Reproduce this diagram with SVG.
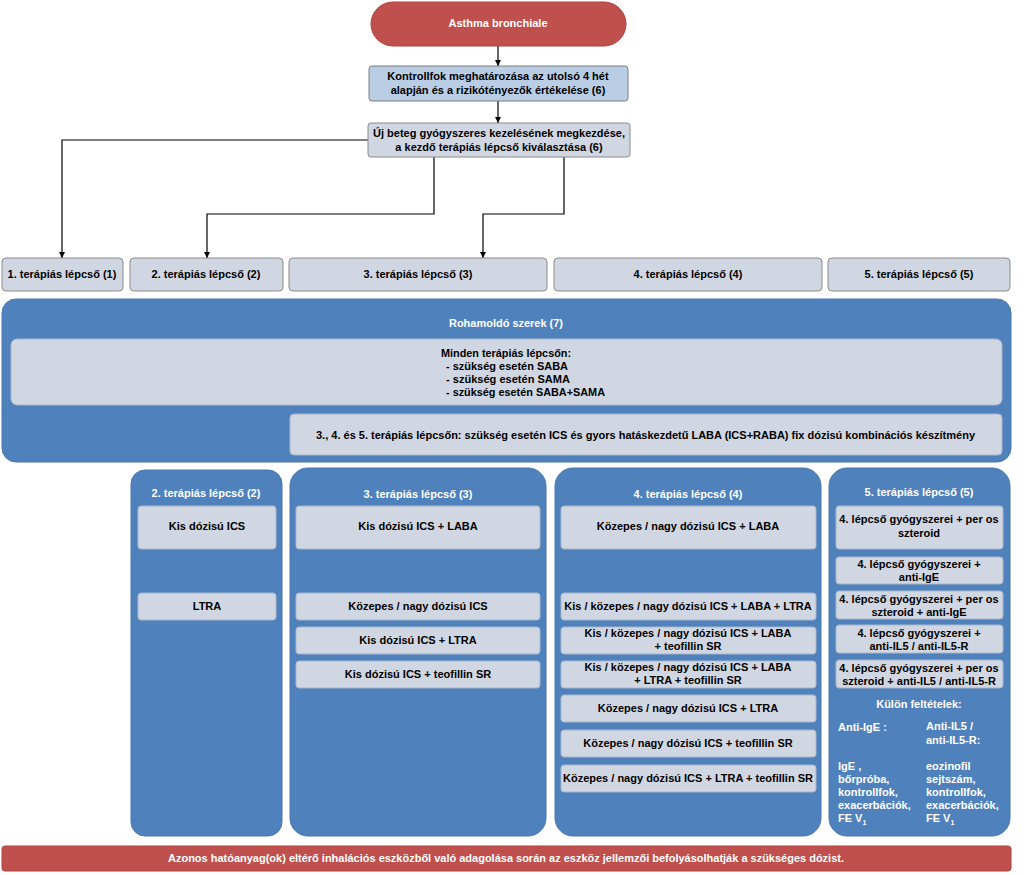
<svg xmlns="http://www.w3.org/2000/svg" width="1024" height="875" viewBox="0 0 1024 875">
<style>
text{font-family:"Liberation Sans",Arial,sans-serif;font-weight:bold;font-size:11px;fill:#000}
.c{text-anchor:middle}
.w{fill:#fff}
.red{fill:#c0504d;stroke:#b0403d;stroke-width:1}
.hdr{fill:#b9cde5;stroke:#7f7f7f;stroke-width:1}
.lt{fill:#d1d7e2;stroke:#8a8a8a;stroke-width:1}
.blue{fill:#4f81bd;stroke:#4a77ae;stroke-width:1}
.in{fill:#d1d7e2;stroke:#a9b6c8;stroke-width:1}
.ln{fill:none;stroke:#000;stroke-width:1.2}
</style>
<defs>
<marker id="ah" viewBox="0 0 10 10" refX="10" refY="5" markerWidth="6" markerHeight="6" orient="auto" markerUnits="userSpaceOnUse">
<path d="M0,0 L10,5 L0,10 z" fill="#000"/>
</marker>
</defs>
<rect width="1024" height="875" fill="#fff"/>

<g id="connectors">
<path class="ln" d="M498,46 V66" marker-end="url(#ah)"/>
<path class="ln" d="M498,101 V123" marker-end="url(#ah)"/>
<path class="ln" d="M368,140 H62 V258" marker-end="url(#ah)"/>
<path class="ln" d="M434,157 V214 H207 V258" marker-end="url(#ah)"/>
<path class="ln" d="M564,157 V214 H483 V258" marker-end="url(#ah)"/>
</g>

<g id="asthma">
<rect class="red" x="371" y="2" width="255" height="44" rx="22"/>
<text class="c w" x="498" y="27">Asthma bronchiale</text>
</g>
<g id="kontrollfok">
<rect class="hdr" x="369" y="66" width="259" height="35" rx="3"/>
<text class="c" x="498" y="80">Kontrollfok meghatározása az utolsó 4 hét</text>
<text class="c" x="498" y="94">alapján és a rizikótényezők értékelése (6)</text>
</g>
<g id="ujbeteg">
<rect class="lt" x="368" y="123" width="262" height="34" rx="3"/>
<text class="c" x="499" y="137">Új beteg gyógyszeres kezelésének megkezdése,</text>
<text class="c" x="499" y="151">a kezdő terápiás lépcső kiválasztása (6)</text>
</g>

<g id="step1"><rect class="lt" x="2" y="258" width="121" height="33" rx="4"/><text class="c" x="62" y="278">1. terápiás lépcső (1)</text></g>
<g id="step2"><rect class="lt" x="130" y="258" width="153" height="33" rx="4"/><text class="c" x="206" y="278">2. terápiás lépcső (2)</text></g>
<g id="step3"><rect class="lt" x="289" y="258" width="258" height="33" rx="4"/><text class="c" x="418" y="278">3. terápiás lépcső (3)</text></g>
<g id="step4"><rect class="lt" x="554" y="258" width="268" height="33" rx="4"/><text class="c" x="688" y="278">4. terápiás lépcső (4)</text></g>
<g id="step5"><rect class="lt" x="828" y="258" width="182" height="33" rx="4"/><text class="c" x="919" y="278">5. terápiás lépcső (5)</text></g>

<g id="rohamoldo">
<rect class="blue" x="2" y="299" width="1009" height="163" rx="14"/>
<text class="c w" x="506" y="327" textLength="114" lengthAdjust="spacingAndGlyphs">Rohamoldó szerek (7)</text>
<rect class="in" x="11" y="339" width="991" height="66" rx="6"/>
<text class="c" x="506" y="357" textLength="130" lengthAdjust="spacingAndGlyphs">Minden terápiás lépcsőn:</text>
<text x="446" y="370" textLength="122" lengthAdjust="spacingAndGlyphs">- szükség esetén SABA</text>
<text x="446" y="383" textLength="124" lengthAdjust="spacingAndGlyphs">- szükség esetén SAMA</text>
<text x="446" y="396" textLength="159" lengthAdjust="spacingAndGlyphs">- szükség esetén SABA+SAMA</text>
<rect class="in" x="290" y="414" width="712" height="41" rx="4"/>
<text x="316" y="439" textLength="659" lengthAdjust="spacingAndGlyphs">3., 4. és 5. terápiás lépcsőn: szükség esetén ICS és gyors hatáskezdetű LABA (ICS+RABA) fix dózisú kombinációs készítmény</text>
</g>

<g id="col2">
<rect class="blue" x="131" y="470" width="151" height="366" rx="14"/>
<text class="c w" x="206" y="497">2. terápiás lépcső (2)</text>
<rect class="in" x="138" y="506" width="138" height="43" rx="3"/>
<text class="c" x="207" y="530">Kis dózisú ICS</text>
<rect class="in" x="138" y="593" width="138" height="27" rx="3"/>
<text class="c" x="207" y="610">LTRA</text>
</g>

<g id="col3">
<rect class="blue" x="290" y="468" width="256" height="368" rx="18"/>
<text class="c w" x="418" y="498">3. terápiás lépcső (3)</text>
<rect class="in" x="296" y="506" width="244" height="43" rx="3"/>
<text class="c" x="418" y="530">Kis dózisú ICS + LABA</text>
<rect class="in" x="296" y="593" width="244" height="27" rx="3"/>
<text class="c" x="418" y="610">Közepes / nagy dózisú ICS</text>
<rect class="in" x="296" y="627" width="244" height="27" rx="3"/>
<text class="c" x="418" y="644">Kis dózisú ICS + LTRA</text>
<rect class="in" x="296" y="661" width="244" height="27" rx="3"/>
<text class="c" x="418" y="678">Kis dózisú ICS + teofillin SR</text>
</g>

<g id="col4">
<rect class="blue" x="555" y="468" width="266" height="368" rx="18"/>
<text class="c w" x="688" y="498">4. terápiás lépcső (4)</text>
<rect class="in" x="561" y="506" width="255" height="43" rx="3"/>
<text class="c" x="688" y="530">Közepes / nagy dózisú ICS + LABA</text>
<rect class="in" x="561" y="593" width="255" height="27" rx="3"/>
<text class="c" x="688" y="610">Kis / közepes / nagy dózisú ICS + LABA + LTRA</text>
<rect class="in" x="561" y="627" width="255" height="27" rx="3"/>
<text class="c" x="688" y="637">Kis / közepes / nagy dózisú ICS + LABA</text>
<text class="c" x="688" y="650">+ teofillin SR</text>
<rect class="in" x="561" y="661" width="255" height="27" rx="3"/>
<text class="c" x="688" y="671">Kis / közepes / nagy dózisú ICS + LABA</text>
<text class="c" x="688" y="684">+ LTRA + teofillin SR</text>
<rect class="in" x="561" y="695" width="255" height="27" rx="3"/>
<text class="c" x="688" y="712">Közepes / nagy dózisú ICS + LTRA</text>
<rect class="in" x="561" y="730" width="255" height="27" rx="3"/>
<text class="c" x="688" y="747">Közepes / nagy dózisú ICS + teofillin SR</text>
<rect class="in" x="561" y="765" width="255" height="27" rx="3"/>
<text class="c" x="688" y="782">Közepes / nagy dózisú ICS + LTRA + teofillin SR</text>
</g>

<g id="col5">
<rect class="blue" x="829" y="468" width="181" height="368" rx="18"/>
<text class="c w" x="919" y="496">5. terápiás lépcső (5)</text>
<rect class="in" x="836" y="506" width="167" height="43" rx="3"/>
<text class="c" x="919" y="523">4. lépcső gyógyszerei + per os</text>
<text class="c" x="919" y="537">szteroid</text>
<rect class="in" x="836" y="557" width="167" height="27" rx="3"/>
<text class="c" x="919" y="568">4. lépcső gyógyszerei +</text>
<text class="c" x="919" y="581">anti-IgE</text>
<rect class="in" x="836" y="591" width="167" height="28" rx="3"/>
<text class="c" x="919" y="603">4. lépcső gyógyszerei + per os</text>
<text class="c" x="919" y="616">szteroid + anti-IgE</text>
<rect class="in" x="836" y="625" width="167" height="28" rx="3"/>
<text class="c" x="919" y="637">4. lépcső gyógyszerei +</text>
<text class="c" x="919" y="650">anti-IL5 / anti-IL5-R</text>
<rect class="in" x="836" y="660" width="167" height="28" rx="3"/>
<text class="c" x="919" y="672">4. lépcső gyógyszerei + per os</text>
<text class="c" x="919" y="685">szteroid + anti-IL5 / anti-IL5-R</text>
<text class="c w" x="919" y="708">Külön feltételek:</text>
<text class="w" x="838" y="731">Anti-IgE :</text>
<text class="w" x="926" y="730">Anti-IL5 /</text>
<text class="w" x="926" y="744">anti-IL5-R:</text>
<text class="w" x="838" y="770">IgE ,</text>
<text class="w" x="838" y="783">bőrpróba,</text>
<text class="w" x="838" y="796">kontrollfok,</text>
<text class="w" x="838" y="809">exacerbációk,</text>
<text class="w" x="838" y="822">FE V<tspan font-size="7" dy="3">1</tspan></text>
<text class="w" x="926" y="770">eozinofil</text>
<text class="w" x="926" y="783">sejtszám,</text>
<text class="w" x="926" y="796">kontrollfok,</text>
<text class="w" x="926" y="809">exacerbációk,</text>
<text class="w" x="926" y="822">FE V<tspan font-size="7" dy="3">1</tspan></text>
</g>

<g id="footer">
<rect class="red" x="2" y="846" width="1009" height="25" rx="3"/>
<text class="w" x="168" y="862" textLength="676" lengthAdjust="spacingAndGlyphs">Azonos hatóanyag(ok) eltérő inhalációs eszközből való adagolása során az eszköz jellemzői befolyásolhatják a szükséges dózist.</text>
</g>
</svg>
